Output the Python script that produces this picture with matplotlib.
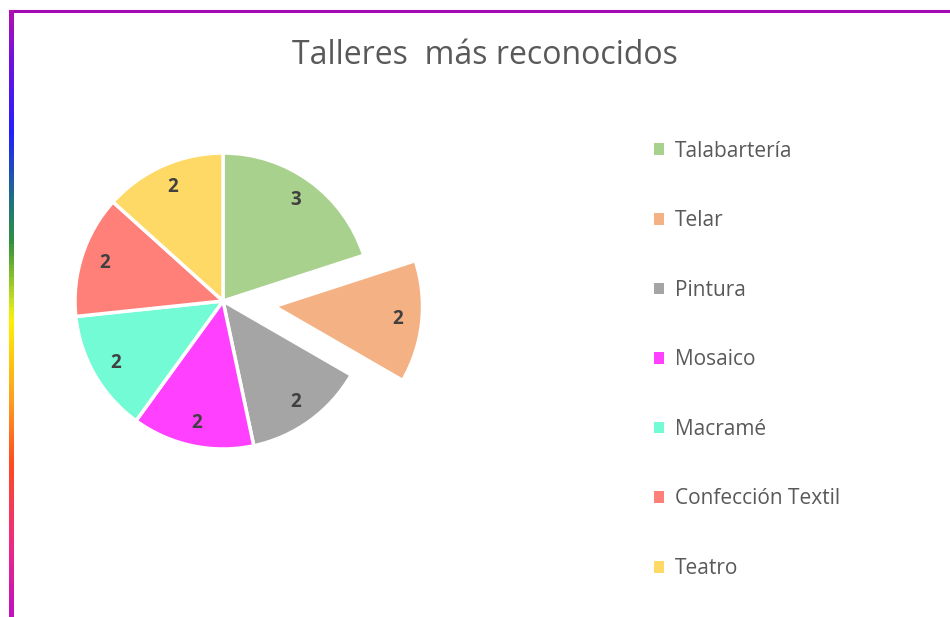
import matplotlib.pyplot as plt
import numpy as np
from matplotlib.colors import LinearSegmentedColormap
from matplotlib.collections import LineCollection
from matplotlib.lines import Line2D

plt.rcParams['font.family'] = ['Open Sans', 'DejaVu Sans']

talleres = ["Talabartería", "Telar", "Pintura", "Mosaico", "Macramé",
            "Confección Textil", "Teatro"]
valores = [3, 2, 2, 2, 2, 2, 2]
colores = ["#A9D18E", "#F4B183", "#A5A5A5", "#FF40FF", "#73FBD5",
           "#FF8079", "#FFD966"]
separar = [0, 0.35, 0, 0, 0, 0, 0]

W, H = 950, 617
fig = plt.figure(figsize=(W / 100, H / 100), dpi=100)

# pie: center (223, 301) px, radius 148 px
r = 148
cx, cy = 223, 301
ax = fig.add_axes([(cx - 1.5 * r) / W, (H - cy - 1.5 * r) / H, 3 * r / W, 3 * r / H])
wedges, texts = ax.pie(valores, colors=colores, startangle=90, counterclock=False,
                       explode=separar, labels=[str(v) for v in valores],
                       labeldistance=0.84,
                       wedgeprops=dict(edgecolor="white", linewidth=2.5))
for t in texts:
    t.set_ha("center")
    t.set_va("center")
    t.set_fontsize(13.5)
    t.set_fontweight("bold")
    t.set_color("#404040")
ax.set_xlim(-1.5, 1.5)
ax.set_ylim(-1.5, 1.5)
ax.axis("off")

fig.text(485 / W, 1 - 55 / H, "Talleres  más reconocidos", ha="center", va="center",
         fontsize=23, color="#595959")

leg = fig.legend(wedges, talleres, loc="upper left",
                 bbox_to_anchor=(635 / W, 1 - 122 / H), frameon=False,
                 fontsize=15, labelcolor="#595959", handlelength=0.5,
                 handleheight=0.5, handletextpad=0.5, labelspacing=2.33)
for h in leg.legend_handles:
    h.set_linewidth(0)

# border: purple top line, gradient left line
fig.add_artist(Line2D([10 / W, 1], [1 - 11 / H, 1 - 11 / H], color="#A40AB4",
                      linewidth=2.2, transform=fig.transFigure))
grad = LinearSegmentedColormap.from_list("borde", [
    (0.0, "#B010B0"), (0.08, "#7010E0"), (0.2, "#2020FF"), (0.31, "#1F6F85"),
    (0.38, "#309040"), (0.48, "#C8E020"), (0.51, "#FFF000"), (0.64, "#FFA020"),
    (0.75, "#FF4A20"), (0.88, "#F02A80"), (1.0, "#C010C0")])
ys = np.linspace(H - 10, 0, 201)
segs = [[(10.5 / W, ys[i] / H), (10.5 / W, (ys[i + 1] - 1.5) / H)] for i in range(200)]
lc = LineCollection(segs, colors=grad(np.linspace(0, 1, 200)), linewidths=2.2,
                    transform=fig.transFigure, capstyle="butt", antialiased=False)
fig.add_artist(lc)

fig.savefig("out.png", dpi=100)
